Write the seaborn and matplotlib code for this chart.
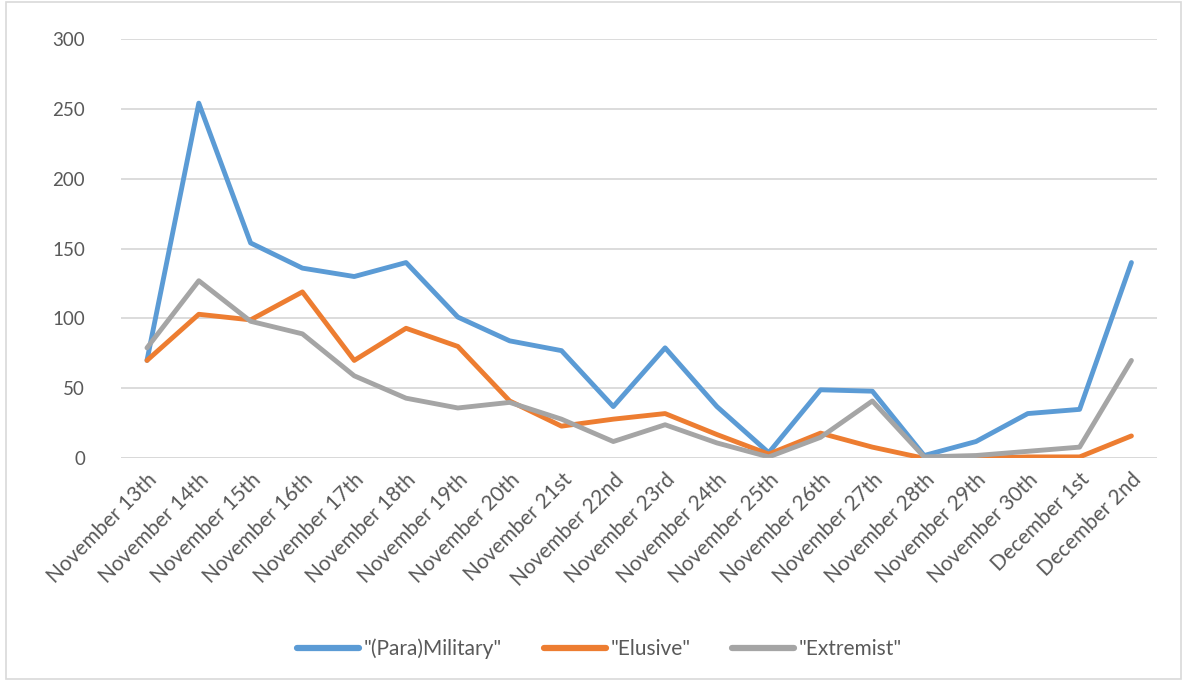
import pandas as pd
import seaborn as sns
import matplotlib.pyplot as plt
from matplotlib.patches import Rectangle

# Daily counts per term
dates = ["November 13th", "November 14th", "November 15th", "November 16th",
         "November 17th", "November 18th", "November 19th", "November 20th",
         "November 21st", "November 22nd", "November 23rd", "November 24th",
         "November 25th", "November 26th", "November 27th", "November 28th",
         "November 29th", "November 30th", "December 1st", "December 2nd"]
para_military = [70, 254, 154, 136, 130, 140, 101, 84, 77, 37, 79, 37, 4, 49, 48, 2, 12, 32, 35, 140]
elusive = [70, 103, 99, 119, 70, 93, 80, 41, 23, 28, 32, 17, 3, 18, 8, 0, 0, 1, 1, 16]
extremist = [79, 127, 98, 89, 59, 43, 36, 40, 28, 12, 24, 11, 1, 15, 41, 1, 2, 5, 8, 70]

series = ['"(Para)Military"', '"Elusive"', '"Extremist"']
colors = ["#5B9BD5", "#ED7D31", "#A5A5A5"]

df = pd.DataFrame({"date": dates * 3,
                   "count": para_military + elusive + extremist,
                   "term": [s for s in series for _ in dates]})
df["pos"] = list(range(len(dates))) * 3

sns.set_style("white")
plt.rcParams["font.family"] = ["Lato", "DejaVu Sans"]

fig = plt.figure(figsize=(11.87, 6.81), dpi=100)
ax = fig.add_axes([0.102, 0.327, 0.873, 0.616])

sns.lineplot(data=df, x="pos", y="count", hue="term", palette=colors,
             linewidth=3.5, ax=ax, legend=False)

ax.set_xlim(-0.5, len(dates) - 0.5)
ax.set_ylim(0, 300)
ax.set_yticks(range(0, 301, 50))
ax.yaxis.grid(True, color="#D9D9D9", linewidth=1.3)
ax.set_axisbelow(True)
for s in ax.spines.values():
    s.set_visible(False)
ax.axhline(0, color="#D9D9D9", linewidth=1.3, zorder=0)

ax.set_xticks(range(len(dates)))
ax.set_xticklabels(dates, rotation=45, ha="right", rotation_mode="anchor")
ax.tick_params(axis="x", length=0, labelsize=15, labelcolor="#595959", pad=8)
ax.tick_params(axis="y", length=0, labelsize=13.5, labelcolor="#595959", pad=26)
ax.set_xlabel("")
ax.set_ylabel("")

handles = [plt.Line2D([], [], color=c, linewidth=4.5, solid_capstyle="round") for c in colors]
leg = fig.legend(handles, series, loc="center", bbox_to_anchor=(0.505, 0.047),
                 ncol=3, frameon=False, fontsize=15, handlelength=3.0,
                 columnspacing=2.0, handletextpad=0.2)
for t in leg.get_texts():
    t.set_color("#595959")

fig.patches.append(Rectangle((0.005, 0.003), 0.99, 0.994, transform=fig.transFigure,
                             fill=False, edgecolor="#D9D9D9", linewidth=1.2))

fig.savefig("out.png", dpi=100)
